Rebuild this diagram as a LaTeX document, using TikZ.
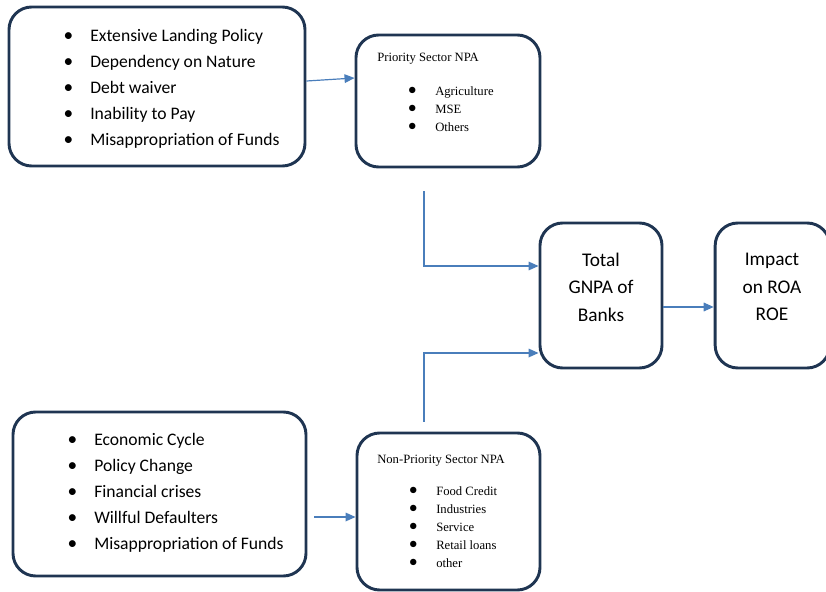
\documentclass[tikz,border=0pt]{standalone}
\usepackage{fontspec}
\setmainfont{Carlito}
\newfontfamily\tnr{Liberation Serif}
\usetikzlibrary{arrows.meta,calc}
\definecolor{boxline}{HTML}{1F3552}
\definecolor{arrline}{HTML}{4A7EBB}
\newcommand\blA{\llap{\makebox[20pt][l]{\fontsize{14.5}{14}\selectfont\raisebox{-0.4pt}{\textbullet}}}}
\newcommand\blB{\llap{\makebox[20.5pt][l]{\smash{\rmfamily\fontsize{13.5}{13}\selectfont\raisebox{-0.6pt}{\textbullet}}}}}
\begin{document}
\begin{tikzpicture}[x=0.75pt,y=-0.75pt,
  box/.style={draw=boxline,line width=2.2pt,rounded corners=17pt,inner sep=0pt},
  arr/.style={draw=arrline,line width=0.9pt,-{Triangle[length=7.5pt,width=6.5pt]}},
  itemA/.style={anchor=mid west,inner sep=0pt,font=\fontsize{13.2}{15}\selectfont},
  itemB/.style={anchor=mid west,inner sep=0pt,font=\tnr\fontsize{9.5}{11}\selectfont},
  bigtxt/.style={align=center,inner sep=0pt,font=\fontsize{14.5}{20.6}\selectfont}]
\useasboundingbox (0,0) rectangle (826,592);
% boxes
\node[box,minimum width=222pt,minimum height=119.25pt] (A) at (157,86.5) {};
\node[box,minimum width=138pt,minimum height=99pt] (B) at (448,101) {};
\node[box,minimum width=91.5pt,minimum height=108.75pt] (C) at (601,295.5) {};
\node[box,minimum width=86pt,minimum height=108.75pt] (D) at (772.5,295.5) {};
\node[box,minimum width=219.75pt,minimum height=123pt] (E) at (159.5,494) {};
\node[box,minimum width=137.25pt,minimum height=117.75pt] (F) at (448.5,511.5) {};
% box A text
\node[itemA] (a1) at (90,38) {\blA Extensive Landing Policy};
\node[itemA] (a2) at (90,64) {\blA Dependency on Nature};
\node[itemA] (a3) at (90,90) {\blA Debt waiver};
\node[itemA] (a4) at (90,116) {\blA Inability to Pay};
\node[itemA] (a5) at (90,142) {\blA Misappropriation of Funds};
% box E text
\node[itemA] (e1) at (94,442) {\blA Economic Cycle};
\node[itemA] (e2) at (94,468) {\blA Policy Change};
\node[itemA] (e3) at (94,494) {\blA Financial crises};
\node[itemA] (e4) at (94,520) {\blA Willful Defaulters};
\node[itemA] (e5) at (94,546) {\blA Misappropriation of Funds};
% box B text
\node[itemB] (bt) at (377,58) {Priority Sector NPA};
\node[itemB] (b1) at (435,92) {\blB Agriculture};
\node[itemB] (b2) at (435,110) {\blB MSE};
\node[itemB] (b3) at (435,128) {\blB Others};
% box F text
\node[itemB] (ft) at (377,460) {Non-Priority Sector NPA};
\node[itemB] (f1) at (436,492) {\blB Food Credit};
\node[itemB] (f2) at (436,510) {\blB Industries};
\node[itemB] (f3) at (436,528) {\blB Service};
\node[itemB] (f4) at (436,546) {\blB Retail loans};
\node[itemB] (f5) at (436,564) {\blB other};
% big boxes text
\node[bigtxt] (ct) at (601,287) {Total\\GNPA of\\Banks};
\node[bigtxt] (dt) at (772,287) {Impact\\on ROA\\ROE};
% connectors
\draw[arr] ($(A.east)+(0,-5.5)$) -- ($(B.west)+(0,-23)$);
\coordinate (bstart) at ($(B.south)+(-24,23)$);
\draw[arr] (bstart) |- ($(C.west)+(0,-29.5)$);
\coordinate (fstart) at ($(F.north)+(-24.5,-10)$);
\draw[arr] (fstart) |- ($(C.west)+(0,57.5)$);
\draw[arr] ($(C.east)+(0,11.5)$) -- ($(D.west |- C.east)+(0,11.5)$);
\draw[arr] ($(E.east)+(7,23)$) -- ($(F.west)+(0,5.5)$);
\end{tikzpicture}
\end{document}
